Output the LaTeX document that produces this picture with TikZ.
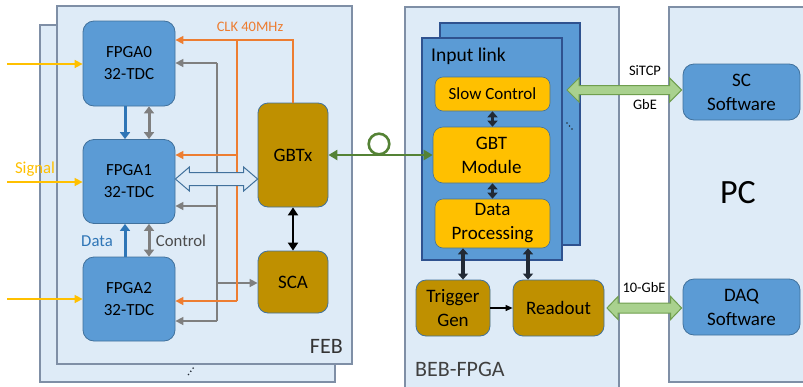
\documentclass[tikz,border=0pt]{standalone}
\usepackage{fontspec}
\setmainfont{Carlito}
\usetikzlibrary{arrows.meta,calc}

\definecolor{panelbg}{HTML}{DEEBF7}
\definecolor{panelln}{HTML}{7F8FA6}
\definecolor{boxblue}{HTML}{5B9BD5}
\definecolor{boxline}{HTML}{41719C}
\definecolor{linkline}{HTML}{2F528F}
\definecolor{gold}{HTML}{BF9000}
\definecolor{amber}{HTML}{FFC000}
\definecolor{clkorange}{HTML}{ED7D31}
\definecolor{ctlgray}{HTML}{7F7F7F}
\definecolor{fibergreen}{HTML}{548235}
\definecolor{netgreen}{HTML}{A9D18E}
\definecolor{netline}{HTML}{6F9E4E}
\definecolor{darkslate}{HTML}{222A35}
\definecolor{datablue}{HTML}{2E75B6}
\definecolor{hollowln}{HTML}{41719C}

% double-headed hollow arrow: style, start, end, shaft half-height, head half-height, head length
\newcommand\hollowdbl[6]{%
  \path[#1] let \p1=#2, \p2=#3 in
    (\x1,\y1) -- (\x1+#6pt,\y1+#5pt) -- (\x1+#6pt,\y1+#4pt) -- (\x2-#6pt,\y1+#4pt)
    -- (\x2-#6pt,\y1+#5pt) -- (\x2,\y1) -- (\x2-#6pt,\y1-#5pt) -- (\x2-#6pt,\y1-#4pt)
    -- (\x1+#6pt,\y1-#4pt) -- (\x1+#6pt,\y1-#5pt) -- cycle;}

\begin{document}
\begin{tikzpicture}[x=1pt,y=-1pt,
  panel/.style={fill=panelbg,draw=panelln,line width=1.2pt},
  fpga/.style={rounded corners=11pt,fill=boxblue,draw=boxline,line width=0.8pt,
    align=center,inner sep=0pt,font=\fontsize{17}{22}\selectfont},
  goldbox/.style={rounded corners=10pt,fill=gold,draw=boxline,line width=0.8pt,
    align=center,inner sep=0pt,font=\fontsize{19}{24}\selectfont},
  ybox/.style={rounded corners=8pt,fill=amber,draw=boxline,line width=0.6pt,
    align=center,inner sep=0pt,font=\fontsize{19}{24}\selectfont},
  swbox/.style={rounded corners=11pt,fill=boxblue,draw=boxline,line width=0.8pt,
    align=center,inner sep=0pt,font=\fontsize{19}{24}\selectfont},
  linkbox/.style={fill=boxblue,draw=linkline,line width=1.2pt},
  clk/.style={draw=clkorange,line width=1.6pt,-{Triangle[length=8pt,width=8pt]}},
  clkline/.style={draw=clkorange,line width=1.6pt},
  ctl/.style={draw=ctlgray,line width=1.6pt,-{Triangle[length=8pt,width=8pt]}},
  ctlline/.style={draw=ctlgray,line width=1.6pt},
  ctldbl/.style={draw=ctlgray,line width=3pt,{Triangle[length=7pt,width=10pt]}-{Triangle[length=7pt,width=10pt]}},
  data/.style={draw=datablue,line width=3pt,-{Triangle[length=7pt,width=10pt]}},
  sig/.style={draw=amber,line width=1.6pt,-{Triangle[length=8pt,width=8pt]}},
  fiber/.style={draw=fibergreen,line width=2.6pt,{Triangle[length=9pt,width=10pt]}-{Triangle[length=9pt,width=10pt]}},
  blk/.style={draw=black,line width=2.4pt,{Triangle[length=8pt,width=10pt]}-{Triangle[length=8pt,width=10pt]}},
  dk/.style={draw=darkslate,line width=3.6pt,{Triangle[length=6pt,width=10pt]}-{Triangle[length=6pt,width=10pt]}},
  thinarrow/.style={draw=black,line width=1.1pt,-{Triangle[length=7pt,width=6pt]}},
  lbl/.style={inner sep=0pt,font=\fontsize{14.5}{17}\selectfont},
  dot/.style={fill=darkslate,draw=none}
]
\useasboundingbox (0,0) rectangle (803,386);

% ---- panels ----
\draw[panel] (40,25) rectangle (335,382);
\draw[panel] (57,6) rectangle (352,364);
\draw[panel] (405,7) rectangle (619,392);
\draw[panel] (669,7) rectangle (812,382);

% ---- FEB ----
\node[fpga,minimum width=92pt,minimum height=85pt] (fpga0) at (129,63.5) {FPGA0\\32-TDC};
\node[fpga,minimum width=92pt,minimum height=84pt] (fpga1) at (129,181.5) {FPGA1\\32-TDC};
\node[fpga,minimum width=92pt,minimum height=84pt] (fpga2) at (129,299) {FPGA2\\32-TDC};
\node[goldbox,minimum width=70pt,minimum height=104pt] (gbtx) at (293,155) {GBTx};
\node[goldbox,minimum width=70pt,minimum height=62pt] (sca) at (293,282) {SCA};

\node[inner sep=0pt,anchor=base east,font=\fontsize{22}{26}\selectfont,text=black!80] (feblbl) at (343,353) {FEB};
\fill[dot] (188.5,374.5) circle (0.9) (190.8,371.3) circle (0.9) (193.1,368.1) circle (0.9);

% signal inputs
\coordinate (sig0) at (7,64);
\coordinate (sig1) at (7,182);
\coordinate (sig2) at (7,299);
\draw[sig] (sig0) -- (fpga0.west |- sig0);
\draw[sig] (sig1) -- (fpga1.west |- sig1);
\draw[sig] (sig2) -- (fpga2.west |- sig2);
\node[inner sep=0pt,text=amber,font=\fontsize{16.7}{20}\selectfont] (siglbl) at (35,169) {Signal};

% data and control between FPGAs
\coordinate (dx) at (125,0);
\coordinate (cx) at (149,0);
\draw[data] (fpga0.south -| dx) -- (fpga1.north -| dx);
\draw[data] (fpga2.north -| dx) -- (fpga1.south -| dx);
\draw[ctldbl] (fpga0.south -| cx) -- (fpga1.north -| cx);
\draw[ctldbl] (fpga2.north -| cx) -- (fpga1.south -| cx);
\node[inner sep=0pt,text=datablue,font=\fontsize{16.7}{20}\selectfont] (datalbl) at (97,241) {Data};
\node[inner sep=0pt,text=black!70,font=\fontsize{16.7}{20}\selectfont] (ctllbl) at (181,241) {Control};

% control bus
\coordinate (ctltop) at (217,63);
\coordinate (ctlmid) at (217,206);
\coordinate (ctlsca) at (217,283);
\coordinate (ctlbot) at (217,321);
\draw[ctlline] (ctltop) -- (ctlbot);
\draw[ctl] (ctltop) -- (fpga0.east |- ctltop);
\draw[ctl] (ctlmid) -- (fpga1.east |- ctlmid);
\draw[ctl] (ctlbot) -- (fpga2.east |- ctlbot);
\draw[ctl] (ctlsca) -- (sca.west |- ctlsca);

% clock distribution
\coordinate (clktop) at (237,40);
\coordinate (clkmid) at (237,155);
\coordinate (clkbot) at (237,301);
\draw[clk] (gbtx.north) |- (fpga0.east |- clktop);
\draw[clkline] (clktop) -- (clkbot);
\draw[clk] (clkmid) -- (fpga1.east |- clkmid);
\draw[clk] (clkbot) -- (fpga2.east |- clkbot);
\node[lbl,text=clkorange] (clklbl) at (250,27) {CLK 40MHz};

% FPGA1 <-> GBTx link
\coordinate (hb) at (0,179);
\hollowdbl{fill=panelbg,draw=hollowln,line width=1pt}{(fpga1.east |- hb)}{(gbtx.west |- hb)}{6.5}{12}{14}

% GBTx <-> SCA
\draw[blk] (gbtx.south) -- (sca.north);

% ---- BEB-FPGA ----
\node[inner sep=0pt,anchor=base west,font=\fontsize{22}{26}\selectfont,text=black!75] (beblbl) at (415,376) {BEB-FPGA};
\draw[linkbox] (440,23) rectangle (580,245);
\draw[linkbox] (422,38) rectangle (562,260);
\node[inner sep=0pt,anchor=base west,font=\fontsize{19.5}{24}\selectfont] (linklbl) at (431,61) {Input link};
\fill[dot] (567,123) circle (0.8) (569.5,126) circle (0.8) (572,129) circle (0.8);

\node[ybox,minimum width=115pt,minimum height=34pt,font=\fontsize{17}{20}\selectfont] (slow) at (492.5,94) {Slow Control};
\node[ybox,minimum width=117pt,minimum height=56pt,rounded corners=10pt] (gbt) at (491.5,155) {GBT\\Module};
\node[ybox,minimum width=115pt,minimum height=49pt] (dp) at (492.5,223.5) {Data\\Processing};
\node[goldbox,minimum width=74pt,minimum height=56pt] (trig) at (453,308) {Trigger\\Gen};
\node[goldbox,minimum width=91pt,minimum height=56pt] (readout) at (558.5,308) {Readout};

\draw[dk] (slow.south) -- (slow.south |- gbt.north);
\draw[dk] (gbt.south -| slow.south) -- (dp.north);
\coordinate (xa) at (463,0);
\coordinate (xb) at (528,0);
\draw[dk] (dp.south -| xa) -- (trig.north -| xa);
\draw[dk] (dp.south -| xb) -- (readout.north -| xb);
\draw[thinarrow] (trig.east) -- (readout.west);

% fibre link with loop
\draw[fiber] (gbtx.east) -- (gbt.west);
\draw[draw=fibergreen,line width=2.6pt] (379,144) circle (10.3);

% ---- PC ----
\node[inner sep=0pt,font=\fontsize{34}{40}\selectfont] (pclbl) at (738,193) {PC};
\node[swbox,minimum width=117pt,minimum height=56pt] (sc) at (741.5,92) {SC\\Software};
\node[swbox,minimum width=117pt,minimum height=56pt] (daq) at (741.5,307) {DAQ\\Software};

\coordinate (scy) at (567,90);
\coordinate (daqy) at (607,308);
\hollowdbl{fill=netgreen,draw=netline,line width=1pt}{(scy)}{($(sc.west |- scy)+(-1,0)$)}{4.5}{12}{12}
\hollowdbl{fill=netgreen,draw=netline,line width=1pt}{(daqy)}{($(daq.west |- daqy)+(-1,0)$)}{5}{11.5}{11}
\node[lbl] (sitcp) at (645,71) {SiTCP};
\node[lbl] (gbe) at (645,105) {GbE};
\node[lbl] (tengbe) at (644,288) {10-GbE};
\end{tikzpicture}
\end{document}
